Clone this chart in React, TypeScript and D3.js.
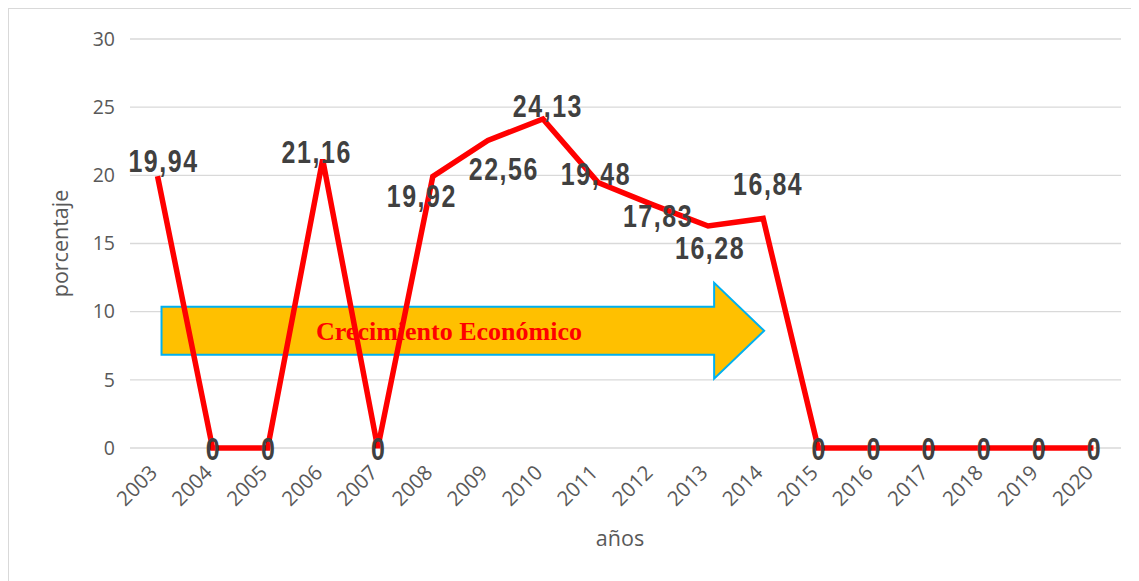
import React from "react";
import * as d3 from "d3";

const years = [
  "2003", "2004", "2005", "2006", "2007", "2008", "2009", "2010", "2011",
  "2012", "2013", "2014", "2015", "2016", "2017", "2018", "2019", "2020",
];
const values = [
  19.94, 0, 0, 21.16, 0, 19.92, 22.56, 24.13, 19.48, 17.83, 16.28, 16.84, 0, 0,
  0, 0, 0, 0,
];
const labels = [
  "19,94", "0", "0", "21,16", "0", "19,92", "22,56", "24,13", "19,48",
  "17,83", "16,28", "16,84", "0", "0", "0", "0", "0", "0",
];
const yTicks = [0, 5, 10, 15, 20, 25, 30];

// label offsets from the point (px), the way they were dragged in the original
const labelOffsets: [number, number][] = [
  [6, -4], [1, 12], [1, 12], [-6, 3], [1, 12], [-11, 31], [16, 40], [5, -2],
  [-2, 3], [5, 22], [2, 33], [5, -23], [1, 12], [1, 12], [1, 12], [1, 12],
  [1, 12], [1, 12],
];

const W = 1131;
const H = 573;
const margin = { top: 31, right: 18, bottom: 133, left: 122 };

export default function App() {
  const x = d3
    .scaleBand()
    .domain(years)
    .range([margin.left, W - margin.right]);
  const y = d3
    .scaleLinear()
    .domain([0, 30])
    .range([H - margin.bottom, margin.top]);
  const cx = (d: string) => (x(d) as number) + x.bandwidth() / 2;

  const line = d3
    .line<number>()
    .x((_, i) => cx(years[i]))
    .y((d) => y(d));

  const y0 = y(0);
  const labelFont = "'Liberation Sans', Arial, sans-serif";
  const axisFont = "'Open Sans', 'Liberation Sans', sans-serif";

  // arrow annotation
  const ax0 = cx("2003") + 4;
  const ax1 = cx("2014") - 49;
  const tip = cx("2014") + 1;
  const ay = y(8.6);
  const bodyH = 24;
  const headH = 48;
  const arrow = `M${ax0},${ay - bodyH} L${ax1},${ay - bodyH} L${ax1},${ay - headH} L${tip},${ay} L${ax1},${ay + headH} L${ax1},${ay + bodyH} L${ax0},${ay + bodyH} Z`;

  return (
    <svg width={W} height={H} style={{ display: "block" }}>
      <rect x={0.5} y={0.5} width={W + 10} height={H + 10} fill="#fff" stroke="#d9d9d9" />
      {yTicks.map((t) => (
        <g key={t}>
          <line x1={margin.left} x2={W - margin.right} y1={y(t)} y2={y(t)} stroke="#d9d9d9" strokeWidth={1.3} />
          <text x={margin.left - 15} y={y(t)} dy="0.35em" textAnchor="end" fontFamily={axisFont} fontSize={19.5} fill="#595959">
            {t}
          </text>
        </g>
      ))}
      {years.map((yr) => (
        <text
          key={yr}
          transform={`translate(${cx(yr) + 1},${y0 + 26}) rotate(-45)`}
          textAnchor="end"
          fontFamily={axisFont}
          fontSize={20.5}
          fill="#595959"
        >
          {yr}
        </text>
      ))}
      <text
        transform={`translate(60,${(margin.top + y0) / 2}) rotate(-90)`}
        textAnchor="middle"
        fontFamily={axisFont}
        fontSize={21.5}
        fill="#595959"
      >
        porcentaje
      </text>
      <text x={612} y={538} textAnchor="middle" fontFamily={axisFont} fontSize={21.5} fill="#595959">
        años
      </text>

      <path d={arrow} fill="#FFC000" stroke="#00B0F0" strokeWidth={2} />
      <text
        x={441}
        y={ay}
        dy="0.35em"
        textAnchor="middle"
        fontFamily="'Liberation Serif', 'Times New Roman', serif"
        fontWeight="bold"
        fontSize={26}
        fill="#FF0000"
      >
        Crecimiento Económico
      </text>

      <path d={line(values) as string} fill="none" stroke="#FF0000" strokeWidth={5.5} strokeLinejoin="miter" />

      {values.map((v, i) => (
        <text
          key={i}
          transform={`translate(${cx(years[i]) + labelOffsets[i][0]},${y(v) + labelOffsets[i][1]}) scale(0.78,1)`}
          textAnchor="middle"
          fontFamily={labelFont}
          fontWeight="bold"
          fontSize={32}
          letterSpacing={2}
          fill="#404040"
        >
          {labels[i]}
        </text>
      ))}
    </svg>
  );
}
